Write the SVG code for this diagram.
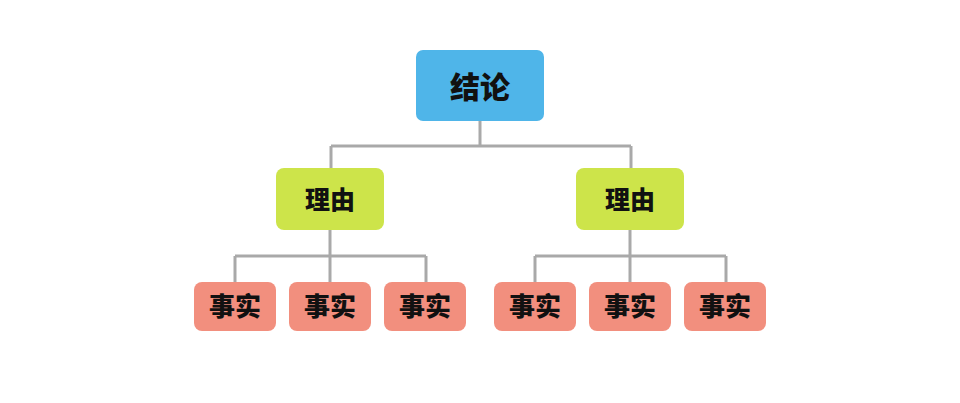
<svg xmlns="http://www.w3.org/2000/svg" width="960" height="403" viewBox="0 0 960 403">
<style>
.t{font-family:"Noto Sans CJK SC","Noto Sans",sans-serif;font-weight:900;fill:#111;text-anchor:middle;dominant-baseline:central}
.c{fill:none;stroke:#a9a9a9;stroke-width:3}
</style>
<rect width="960" height="403" fill="#fff"/>
<g id="connectors">
<path class="c" d="M480 121V146M331 146H631M331 146V168M631 146V168"/>
<path class="c" d="M330 230V256M235 256H426M235 256V282M330 256V282M426 256V282"/>
<path class="c" d="M630 230V256M535 256H726M535 256V282M630 256V282M726 256V282"/>
</g>
<g id="conclusion"><rect x="416" y="50" width="128" height="71" rx="7" fill="#4fb5e9"/><text class="t" x="480" y="85" font-size="30">结论</text></g>
<g id="reason1"><rect x="276" y="168" width="108" height="62" rx="8" fill="#cde44a"/><text class="t" x="330" y="198" font-size="25">理由</text></g>
<g id="reason2"><rect x="576" y="168" width="108" height="62" rx="8" fill="#cde44a"/><text class="t" x="630" y="198" font-size="25">理由</text></g>
<g id="fact1"><rect x="194" y="282" width="82" height="49" rx="8" fill="#f28f7e"/><text class="t" x="235" y="304" font-size="26">事实</text></g>
<g id="fact2"><rect x="289" y="282" width="82" height="49" rx="8" fill="#f28f7e"/><text class="t" x="330" y="304" font-size="26">事实</text></g>
<g id="fact3"><rect x="384" y="282" width="82" height="49" rx="8" fill="#f28f7e"/><text class="t" x="425" y="304" font-size="26">事实</text></g>
<g id="fact4"><rect x="494" y="282" width="82" height="49" rx="8" fill="#f28f7e"/><text class="t" x="535" y="304" font-size="26">事实</text></g>
<g id="fact5"><rect x="589" y="282" width="82" height="49" rx="8" fill="#f28f7e"/><text class="t" x="630" y="304" font-size="26">事实</text></g>
<g id="fact6"><rect x="684" y="282" width="82" height="49" rx="8" fill="#f28f7e"/><text class="t" x="725" y="304" font-size="26">事实</text></g>
</svg>
